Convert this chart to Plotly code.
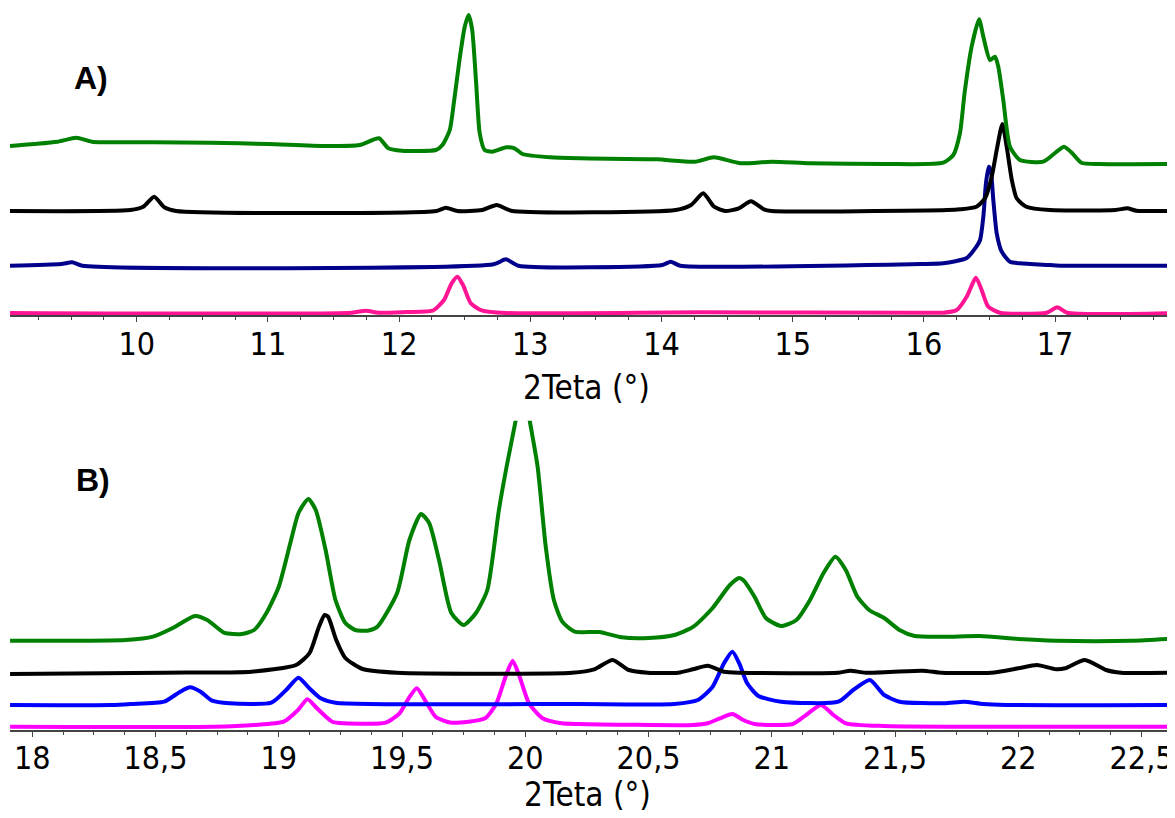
import plotly.graph_objects as go

# ---------------- Panel A (2Teta 9-18) ----------------
a_green_x = [9.034, 9.06, 9.22, 9.396, 9.541, 9.658, 10.124, 10.56, 11.0, 11.437, 11.70, 11.846, 11.918, 12.02,
             12.28, 12.33, 12.386, 12.42, 12.46, 12.50, 12.53, 12.557, 12.587, 12.614, 12.652, 12.71, 12.817,
             12.88, 12.94, 13.15, 13.38, 13.96, 14.254, 14.40, 14.604, 14.838, 15.13, 15.71, 16.148, 16.224,
             16.275, 16.31, 16.364, 16.42, 16.453, 16.504, 16.542, 16.567, 16.605, 16.656, 16.732, 16.91,
             17.012, 17.068, 17.127, 17.20, 17.342, 17.9]
a_green_y = [167, 167.3, 169, 171.3, 175.3, 171.3, 170.7, 170.3, 169, 167, 168, 174.7, 164.7, 162.3,
             163, 168, 183, 213, 253, 286.3, 298, 283, 230, 180, 163, 161.3, 165.7,
             164.7, 159, 155.7, 154.7, 153.7, 151.3, 155.7, 149.7, 151.3, 149.7, 149, 150.3, 158,
             180, 220, 266.3, 293.7, 276.3, 253, 256.3, 246.3, 213, 166.3, 153, 151.3,
             161.3, 166.3, 160.3, 150.3, 149, 149]

a_black_x = [9.034, 9.95, 10.05, 10.133, 10.21, 10.30, 12.284, 12.356, 12.444, 12.633, 12.744, 12.853,
             14.108, 14.225, 14.318, 14.40, 14.487, 14.589, 14.682, 14.78, 14.838, 16.18, 16.275, 16.40,
             16.466, 16.517, 16.555, 16.598, 16.631, 16.67, 16.707, 16.78, 16.96, 17.46, 17.55, 17.62, 17.9]
a_black_y = [102, 103, 106.3, 116.3, 105.7, 102, 102, 105.3, 102, 103, 108, 102.3,
             103, 108, 119.7, 106.3, 102, 104.7, 111.7, 103.7, 102, 103, 103.7, 106.3,
             114.7, 136.3, 163, 189, 166.3, 133, 114.7, 106.3, 103, 103, 104.7, 102.3, 102]

a_blue_x = [9.034, 9.424, 9.507, 9.585, 12.72, 12.814, 12.91, 14.006, 14.07, 14.143, 15.975, 16.148,
            16.326, 16.40, 16.428, 16.453, 16.473, 16.494, 16.509, 16.529, 16.555, 16.593, 16.656,
            16.732, 16.96, 17.053, 17.9]
a_blue_y = [47.3, 49, 50.7, 47.3, 48.7, 53.7, 47.3, 48, 51.3, 47.3, 49, 49.7,
            55, 66.3, 73, 96.3, 129.7, 146.3, 143, 113, 79.7, 61.3, 51.3,
            49.7, 48, 47.3, 47.3]

a_pink_x = [9.034, 11.64, 11.744, 11.846, 12.05, 12.255, 12.342, 12.40, 12.444, 12.487, 12.546, 12.634,
            12.81, 14.3, 16.0, 16.148, 16.25, 16.326, 16.397, 16.44, 16.49, 16.58, 16.936, 17.017,
            17.09, 17.9]
a_pink_y = [0, 0.3, 2.3, 0.3, 1, 2.3, 13, 29.7, 36.3, 28, 9.7, 2.3,
            0, 0.7, 0.3, 0.3, 3, 16.3, 35.3, 23, 6.3, 0.3, 0.3, 5.7,
            0.3, 0]

# ---------------- Panel B (2Teta 18-22.6) ----------------
b_green_x = [17.91, 18.38, 18.49, 18.57, 18.66, 18.71, 18.78, 18.85, 18.90, 18.95, 19.0, 19.05, 19.08,
             19.12, 19.15, 19.19, 19.23, 19.27, 19.31, 19.36, 19.40, 19.48, 19.53, 19.577, 19.61, 19.65,
             19.70, 19.75, 19.80, 19.846, 19.893, 19.927, 19.961, 19.99, 20.018, 20.05, 20.083, 20.116,
             20.15, 20.20, 20.30, 20.39, 20.50, 20.605, 20.682, 20.76, 20.83, 20.868, 20.884, 20.93,
             20.976, 21.038, 21.10, 21.155, 21.21, 21.258, 21.30, 21.347, 21.395, 21.456, 21.518, 21.58,
             21.703, 21.844, 22.0, 22.153, 22.46, 22.62]
b_green_y = [88.3, 89, 92.3, 101, 113, 109, 96, 95, 99, 116, 142.3, 189, 216,
             230, 219, 179, 129, 106, 99, 98.3, 102.3, 136, 189, 215, 206, 169,
             116, 104, 116, 139, 219, 266, 308.3, 346, 308.3, 262.3, 182.3, 129,
             107.3, 97.3, 97, 91.7, 91, 94, 102.3, 121, 144, 151, 149, 132.3,
             111, 103, 109, 129, 156, 172.3, 159, 132.3, 119, 111, 99, 93,
             92.3, 93, 90, 88.3, 88.3, 90.3]

b_black_x = [17.91, 18.535, 18.89, 19.07, 19.125, 19.163, 19.186, 19.20, 19.233, 19.27, 19.34, 19.48,
             20.19, 20.28, 20.354, 20.42, 20.497, 20.62, 20.68, 20.74, 20.806, 20.868, 21.27, 21.318,
             21.38, 21.61, 21.69, 21.89, 22.0, 22.076, 22.153, 22.19, 22.27, 22.356, 22.417, 22.62]
b_black_y = [55, 56.3, 57.3, 64, 76, 102.3, 114, 112.3, 89, 71, 60, 56.3,
             56.3, 59.7, 69, 59, 56.3, 56.3, 59.7, 63.3, 57.3, 56.3, 56.3, 58.3,
             56.3, 58.3, 56.3, 56.3, 60.7, 64, 59.7, 60.7, 69, 59, 56.3, 56.3]

b_blue_x = [17.91, 18.32, 18.40, 18.535, 18.60, 18.64, 18.683, 18.73, 18.80, 18.97, 19.03, 19.08,
            19.124, 19.17, 19.23, 20.217, 20.605, 20.70, 20.76, 20.806, 20.84, 20.868, 20.90, 20.946,
            21.038, 21.27, 21.33, 21.398, 21.456, 21.518, 21.70, 21.78, 21.857, 21.95, 22.62]
b_blue_y = [24, 24, 25, 27.3, 37.3, 41.7, 37.3, 28.3, 25.7, 26.3, 39, 51.3,
            40.7, 30.7, 26.3, 25, 25, 29, 42.3, 65.7, 77.3, 65.7, 45.7, 33,
            27.3, 27.3, 39, 49, 34, 27.3, 25.7, 27.3, 25, 24, 24]

b_pink_x = [17.91, 18.736, 18.90, 19.02, 19.078, 19.116, 19.155, 19.217, 19.264, 19.434, 19.49, 19.527,
            19.56, 19.597, 19.636, 19.70, 19.837, 19.883, 19.92, 19.949, 19.977, 20.015, 20.07, 20.147,
            20.217, 20.68, 20.74, 20.79, 20.84, 20.884, 20.93, 21.085, 21.13, 21.20, 21.25, 21.30,
            21.456, 22.62]
b_pink_y = [2.3, 2.3, 4, 7.3, 19, 29.7, 20.7, 7.3, 5.7, 6.3, 15.7, 30.7,
            40.7, 27.3, 12.3, 6.3, 10.7, 25.7, 52.3, 68.3, 52.3, 25.7, 10.7, 5.7,
            5, 4, 5.7, 10.7, 15, 9, 5, 5, 12.3, 24, 14, 5.7,
            3, 2.3]

a_tickvals = [10, 11, 12, 13, 14, 15, 16, 17]
a_ticktext = ["10", "11", "12", "13", "14", "15", "16", "17"]
b_tickvals = [18, 18.5, 19, 19.5, 20, 20.5, 21, 21.5, 22, 22.5]
b_ticktext = ["18", "18,5", "19", "19,5", "20", "20,5", "21", "21,5", "22", "22,5"]
x_title = "2Teta (°)"

GREEN = "#008000"
BLACK = "#000000"
NAVY = "#00008B"
PINK = "#FF1493"
BLUE = "#0000FF"
MAGENTA = "#FF00FF"
LW = 4

fig = go.Figure()
for xs, ys, c in [(a_pink_x, a_pink_y, PINK), (a_blue_x, a_blue_y, NAVY),
                  (a_black_x, a_black_y, BLACK), (a_green_x, a_green_y, GREEN)]:
    fig.add_trace(go.Scatter(x=xs, y=ys, mode="lines", xaxis="x", yaxis="y",
                             line=dict(color=c, width=LW, shape="spline", smoothing=0.6),
                             showlegend=False, hoverinfo="skip"))
for xs, ys, c in [(b_pink_x, b_pink_y, MAGENTA), (b_blue_x, b_blue_y, BLUE),
                  (b_black_x, b_black_y, BLACK), (b_green_x, b_green_y, GREEN)]:
    fig.add_trace(go.Scatter(x=xs, y=ys, mode="lines", xaxis="x2", yaxis="y2",
                             line=dict(color=c, width=LW, shape="spline", smoothing=0.6),
                             showlegend=False, hoverinfo="skip"))

FONT = "Liberation Sans Narrow, Arial Narrow, DejaVu Sans Condensed, sans-serif"
AXC = "#444444"
axis_common = dict(showgrid=False, zeroline=False, showline=True, linecolor=AXC, linewidth=1.5,
                   ticks="outside", ticklen=5, tickwidth=1, tickcolor=AXC, ticklabelstandoff=-6,
                   tickfont=dict(family=FONT, size=32, color="#000000"), mirror=False)

# page body has an 8px margin: the figure is sized/placed to compensate
fig.update_layout(
    width=1167, height=810,
    margin=dict(l=2, r=3, t=0, b=88),
    paper_bgcolor="white", plot_bgcolor="white",
    xaxis=dict(range=[9.034, 17.891], anchor="y", tickmode="array", tickvals=a_tickvals,
               ticktext=a_ticktext,
               minor=dict(tick0=10, dtick=0.25, ticks="outside", ticklen=3, tickcolor=AXC),
               **axis_common),
    yaxis=dict(domain=[0.5741, 1.0], range=[-2.5, 305], visible=False, fixedrange=True),
    xaxis2=dict(range=[17.9097, 22.6235], anchor="y2", tickmode="array", tickvals=b_tickvals,
                ticktext=b_ticktext,
                minor=dict(tick0=18, dtick=0.125, ticks="outside", ticklen=3, tickcolor=AXC),
                **axis_common),
    yaxis2=dict(domain=[0.0, 0.4284], range=[-1, 308.3], visible=False, fixedrange=True),
    annotations=[
        dict(text="<b>A)</b>", x=0.0697, y=0.903, xref="paper", yref="paper",
             xanchor="center", yanchor="middle",
             showarrow=False, font=dict(family="Liberation Sans, Arial, sans-serif", size=32, color="black")),
        dict(text="<b>B)</b>", x=0.0714, y=0.3463, xref="paper", yref="paper",
             xanchor="center", yanchor="middle",
             showarrow=False, font=dict(family="Liberation Sans, Arial, sans-serif", size=32, color="black")),
        dict(text=x_title, x=0.4957, y=0.4737, xref="paper", yref="paper",
             xanchor="center", yanchor="middle",
             showarrow=False, font=dict(family=FONT, size=33, color="black")),
        dict(text=x_title, x=0.4966, y=-0.090, xref="paper", yref="paper",
             xanchor="center", yanchor="middle", borderpad=0,
             showarrow=False, font=dict(family=FONT, size=33, color="black")),
    ],
)

fig.write_html("out.html")
